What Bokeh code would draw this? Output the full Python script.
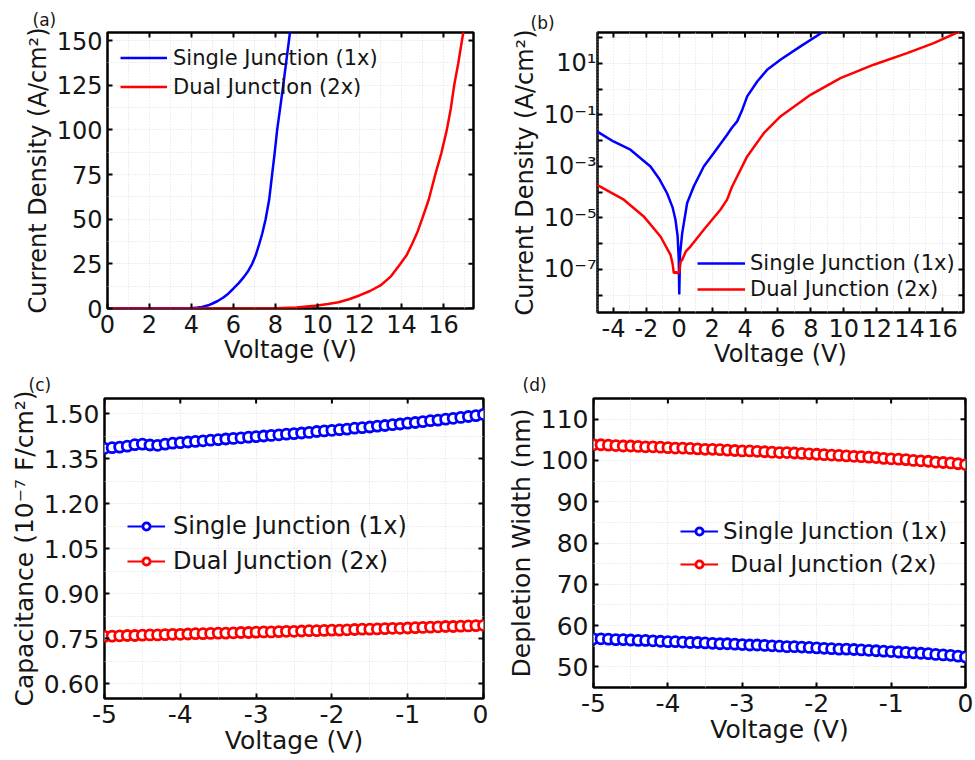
import math
from bokeh.plotting import figure
from bokeh.layouts import row, column
from bokeh.models import FixedTicker, Range1d
from bokeh.embed import file_html
from bokeh.resources import INLINE

# ---------------- data ----------------
# (a) linear J-V
a_x_ticks = [0, 2, 4, 6, 8, 10, 12, 14, 16]
a_x_labels = ["0", "2", "4", "6", "8", "10", "12", "14", "16"]
a_x_minor = [1, 3, 5, 7, 9, 11, 13, 15, 17]
a_y_ticks = [0, 25, 50, 75, 100, 125, 150]
a_y_labels = ["0", "25", "50", "75", "100", "125", "150"]
a_y_minor = [12.5, 37.5, 62.5, 87.5, 112.5, 137.5]
sj_a_v = [0, 1, 2, 3, 3.5, 4.0, 4.3, 4.5, 4.8, 5.0, 5.25, 5.5, 5.75, 6.0, 6.25, 6.5, 6.7, 6.89,
          7.05, 7.2, 7.37, 7.53, 7.7, 7.84, 7.96, 8.08, 8.22, 8.37, 8.5, 8.64, 8.8]
sj_a_j = [0, 0, 0, 0.01, 0.05, 0.2, 0.5, 0.9, 1.8, 2.8, 4.2, 6.0, 8.3, 11.2, 14.2, 17.7, 21, 25,
          29.5, 35, 42, 50, 61, 75, 87, 100, 112, 125, 137, 150, 165]
dj_a_v = [0, 6, 7, 8, 9, 10, 10.5, 11, 11.5, 12, 12.5, 13, 13.5, 13.95, 14.25, 14.5, 14.75, 14.98,
          15.3, 15.61, 15.9, 16.16, 16.35, 16.51, 16.7, 16.88, 17.1]
dj_a_j = [0, 0.01, 0.05, 0.2, 0.6, 1.7, 2.5, 3.5, 5.2, 7.3, 9.8, 12.9, 18, 25, 30, 36, 42.5, 50,
          61, 75, 87, 100, 112, 125, 137, 150, 165]

# (b) log J-V (values given as log10 of current density)
b_x_ticks = [-4, -2, 0, 2, 4, 6, 8, 10, 12, 14, 16]
b_x_labels = ["-4", "-2", "0", "2", "4", "6", "8", "10", "12", "14", "16"]
b_x_minor = [-5, -3, -1, 1, 3, 5, 7, 9, 11, 13, 15, 17]
b_y_ticks = [1e-8, 1e-7, 1e-6, 1e-5, 1e-4, 1e-3, 1e-2, 1e-1, 1e0, 1e1, 1e2]
b_y_labels = ["", "10⁻⁷", "", "10⁻⁵", "", "10⁻³", "", "10⁻¹", "", "10¹", ""]
sj_b_v = [-5, -4, -2.97, -1.75, -1.2, -0.74, -0.4, -0.23, -0.1, -0.03, 0.0, 0.05, 0.18, 0.48,
          0.88, 1.49, 2.1, 2.91, 3.2, 3.52, 3.8, 4.13, 4.74, 5.34, 6.15, 7.37, 8.69]
sj_b_logj = [-1.64, -2.03, -2.35, -3.0, -3.5, -4.04, -4.6, -5.07, -5.7, -6.6, -7.97, -6.4, -5.59, -4.42,
             -3.78, -3.0, -2.48, -1.77, -1.5, -1.25, -0.85, -0.28, 0.30, 0.75, 1.14, 1.66, 2.2]
dj_b_v = [-5, -4.2, -3.37, -2.16, -1.14, -0.53, -0.4, -0.33, -0.2, -0.1, 0.0, 0.08, 0.18, 0.4, 0.68,
          1.49, 2.5, 2.91, 3.2, 3.52, 4.13, 5.14, 6.15, 7.98, 9.8, 11.82, 13.85, 15.47, 16.9, 17.3]
dj_b_logj = [-3.71, -4.0, -4.29, -4.94, -5.72, -6.43, -6.8, -7.14, -7.1, -7.15, -7.1, -6.7, -6.62, -6.3, -6.11,
             -5.46, -4.68, -4.29, -3.8, -3.39, -2.61, -1.71, -1.06, -0.22, 0.43, 0.95, 1.40, 1.79, 2.2, 2.3]

# (c), (d) C-V and depletion width
cv_voltage = [-5.0, -4.9, -4.8, -4.7, -4.6, -4.5, -4.4, -4.3, -4.2, -4.1, -4.0,
              -3.9, -3.8, -3.7, -3.6, -3.5, -3.4, -3.3, -3.2, -3.1, -3.0,
              -2.9, -2.8, -2.7, -2.6, -2.5, -2.4, -2.3, -2.2, -2.1, -2.0,
              -1.9, -1.8, -1.7, -1.6, -1.5, -1.4, -1.3, -1.2, -1.1, -1.0,
              -0.9, -0.8, -0.7, -0.6, -0.5, -0.4, -0.3, -0.2, -0.1, 0.0]
sj_cap = [1.384, 1.386, 1.388, 1.391, 1.396, 1.398, 1.395, 1.394, 1.398, 1.401, 1.403,
          1.405, 1.407, 1.409, 1.411, 1.413, 1.415, 1.417, 1.419, 1.421, 1.423,
          1.425, 1.427, 1.429, 1.431, 1.433, 1.435, 1.437, 1.440, 1.442, 1.444,
          1.446, 1.448, 1.451, 1.453, 1.455, 1.458, 1.460, 1.463, 1.465, 1.468,
          1.470, 1.473, 1.476, 1.478, 1.481, 1.484, 1.487, 1.490, 1.493, 1.497]
dj_cap = [0.757, 0.758, 0.759, 0.760, 0.760, 0.761, 0.762, 0.762, 0.763, 0.764, 0.764,
          0.765, 0.766, 0.766, 0.767, 0.768, 0.768, 0.769, 0.770, 0.770, 0.771,
          0.772, 0.772, 0.773, 0.774, 0.774, 0.775, 0.776, 0.776, 0.777, 0.778,
          0.778, 0.779, 0.780, 0.781, 0.781, 0.782, 0.783, 0.784, 0.784, 0.785,
          0.786, 0.787, 0.788, 0.789, 0.790, 0.790, 0.791, 0.792, 0.793, 0.794]
sj_width = [56.8, 56.8, 56.7, 56.6, 56.6, 56.5, 56.4, 56.4, 56.3, 56.2, 56.1,
            56.1, 56.0, 55.9, 55.9, 55.8, 55.7, 55.6, 55.6, 55.5, 55.4,
            55.3, 55.3, 55.2, 55.1, 55.0, 54.9, 54.9, 54.8, 54.7, 54.6,
            54.5, 54.4, 54.3, 54.3, 54.2, 54.1, 54.0, 53.9, 53.8, 53.7,
            53.6, 53.5, 53.4, 53.3, 53.2, 53.0, 52.9, 52.8, 52.6, 52.4]
dj_width = [103.8, 103.8, 103.7, 103.6, 103.5, 103.5, 103.4, 103.3, 103.3, 103.2, 103.1,
            103.0, 103.0, 102.9, 102.8, 102.7, 102.7, 102.6, 102.5, 102.4, 102.3,
            102.3, 102.2, 102.1, 102.0, 101.9, 101.9, 101.8, 101.7, 101.6, 101.5,
            101.4, 101.3, 101.2, 101.1, 101.0, 100.9, 100.8, 100.7, 100.5, 100.4,
            100.3, 100.2, 100.0, 99.9, 99.8, 99.6, 99.5, 99.4, 99.2, 99.0]
cd_x_ticks = [-5, -4, -3, -2, -1, 0]
cd_x_labels = ["-5", "-4", "-3", "-2", "-1", "0"]
cd_x_minor = [-4.5, -3.5, -2.5, -1.5, -0.5]
c_y_ticks = [0.60, 0.75, 0.90, 1.05, 1.20, 1.35, 1.50]
c_y_labels = ["0.60", "0.75", "0.90", "1.05", "1.20", "1.35", "1.50"]
c_y_minor = [0.675, 0.825, 0.975, 1.125, 1.275, 1.425]
d_y_ticks = [50, 60, 70, 80, 90, 100, 110]
d_y_labels = ["50", "60", "70", "80", "90", "100", "110"]
d_y_minor = [55, 65, 75, 85, 95, 105]

labels_series = ["Single Junction (1x)", "Dual Junction (2x)"]

# ---------------- styling ----------------
FONT = "DejaVu Sans"
BLUE = "#0000ff"
RED = "#ff0000"
TXT = "#151515"
GRID = "#dcdcdc"


def base_fig(title, fw, fh, bl, br, bt, bb, xr, yr, y_type="linear"):
    p = figure(title=title, frame_width=fw, frame_height=fh, min_border_left=bl, min_border_right=br,
               min_border_top=bt, min_border_bottom=bb, x_range=Range1d(*xr), y_range=Range1d(*yr),
               y_axis_type=y_type, output_backend="svg", toolbar_location=None)
    p.outline_line_color = "black"
    p.outline_line_width = 2.5
    p.outline_line_alpha = 1.0
    p.background_fill_color = "white"
    p.border_fill_color = "white"
    p.title.align = "left"
    p.title.text_font = FONT
    p.title.text_font_size = "17px"
    p.title.text_font_style = "normal"
    p.title.text_color = TXT
    return p


def setup_axes(p, xt, xl, xminor, yt, yl, yminor, xlab, ylab, tick_fs, lab_fs, x_end, y_end):
    xtk = FixedTicker(ticks=xt, minor_ticks=xminor)
    ytk = FixedTicker(ticks=yt, minor_ticks=yminor)
    ax_x = p.xaxis[0]
    ax_y = p.yaxis[0]
    for ax, tk, lab, tl, labels in ((ax_x, xtk, xlab, xt, xl), (ax_y, ytk, ylab, yt, yl)):
        ax.ticker = tk
        ax.axis_label = lab
        ax.major_label_overrides = {t: s for t, s in zip(tl, labels)}
        ax.axis_label_text_font = FONT
        ax.axis_label_text_font_size = lab_fs
        ax.axis_label_text_font_style = "normal"
        ax.axis_label_text_color = TXT
        ax.major_label_text_font = FONT
        ax.major_label_text_font_size = tick_fs
        ax.major_label_text_color = TXT
        ax.major_tick_in = 5
        ax.major_tick_out = 0
        ax.major_tick_line_width = 2
        ax.minor_tick_line_color = None
        ax.axis_line_color = None
    ax_x.major_label_standoff = 2
    ax_x.axis_label_standoff = 0
    ax_y.major_label_standoff = 1
    ax_y.axis_label_standoff = 2
    # inward ticks on the top and right edges of the box (half of each dash is clipped by the frame)
    p.scatter(x=xt, y=[y_end] * len(xt), marker="dash", angle=math.pi / 2, size=10,
              line_color="black", line_width=2)
    p.scatter(x=[x_end] * len(yt), y=yt, marker="dash", size=10, line_color="black", line_width=2)
    for g in (p.xgrid[0], p.ygrid[0]):
        g.grid_line_color = GRID
        g.grid_line_dash = "1 2"
        g.grid_line_width = 1
        g.minor_grid_line_color = GRID
        g.minor_grid_line_dash = "1 2"
        g.minor_grid_line_width = 1


def setup_legend(p, loc, fs, glyph_w, glyph_h, row_h, standoff):
    lg = p.legend[0]
    lg.location = loc
    lg.padding = 0
    lg.margin = 0
    lg.spacing = 0
    lg.border_line_color = None
    lg.background_fill_alpha = 0
    lg.label_text_font = FONT
    lg.label_text_font_size = fs
    lg.label_text_color = TXT
    lg.glyph_width = glyph_w
    lg.glyph_height = glyph_h
    lg.label_height = row_h
    lg.label_standoff = standoff


# ---------------- (a) ----------------
a_xr = (0, 17.43)
a_yr = (0, 154.5)
pa = base_fig("(a)", 366, 276, 107, 15, 32, 58, a_xr, a_yr)
pa.title.offset = -75
pa.title.standoff = 6
setup_axes(pa, a_x_ticks, a_x_labels, a_x_minor, a_y_ticks, a_y_labels, a_y_minor,
           "Voltage (V)", "Current Density (A/cm²)", "24px", "24px", a_xr[1], a_yr[1])
pa.line(sj_a_v, sj_a_j, color=BLUE, line_width=2.5, legend_label=labels_series[0])
pa.line(dj_a_v, dj_a_j, color=RED, line_width=2.5, legend_label=labels_series[1])
setup_legend(pa, (13, 207), "21px", 47, 29, 29, 6)

# ---------------- (b) ----------------
b_xr = (-4.97, 17.28)
b_yr = (10 ** -8.67, 10 ** 2.2)
pb = base_fig("(b)", 366, 280, 109, 10, 26, 60, b_xr, b_yr, y_type="log")
pb.title.offset = -67
pb.title.standoff = 0
setup_axes(pb, b_x_ticks, b_x_labels, b_x_minor, b_y_ticks, b_y_labels, [],
           "Voltage (V)", "Current Density (A/cm²)", "24px", "24px", b_xr[1], b_yr[1])
pb.line(sj_b_v, [10 ** e for e in sj_b_logj], color=BLUE, line_width=2.5, legend_label=labels_series[0])
pb.line(dj_b_v, [10 ** e for e in dj_b_logj], color=RED, line_width=2.5, legend_label=labels_series[1])
setup_legend(pb, (100, 10), "21px", 48, 26, 26, 5)

# ---------------- (c) ----------------
c_xr = (-5, 0)
c_yr = (0.55, 1.55)
pc = base_fig("(c)", 379, 300, 104, 5, 32, 58, c_xr, c_yr)
pc.title.offset = -76
pc.title.standoff = 7
setup_axes(pc, cd_x_ticks, cd_x_labels, cd_x_minor, c_y_ticks, c_y_labels, c_y_minor,
           "Voltage (V)", "Capacitance (10⁻⁷ F/cm²)", "25px", "25px", c_xr[1], c_yr[1])
for ys, col, lab in ((sj_cap, BLUE, labels_series[0]), (dj_cap, RED, labels_series[1])):
    pc.line(cv_voltage, ys, color=col, line_width=2, legend_label=lab)
    pc.scatter(cv_voltage, ys, marker="circle", size=10, line_color=col, line_width=2.8,
               fill_color="white", legend_label=lab)
setup_legend(pc, (23, 120), "24px", 38, 18, 35, 8)

# ---------------- (d) ----------------
d_xr = (-5, 0)
d_yr = (45, 115)
pd_ = base_fig("(d)", 372, 289, 105, 8, 32, 69, d_xr, d_yr)
pd_.title.offset = -71
pd_.title.standoff = 7
setup_axes(pd_, cd_x_ticks, cd_x_labels, cd_x_minor, d_y_ticks, d_y_labels, d_y_minor,
           "Voltage (V)", "Depletion Width (nm)", "25px", "25px", d_xr[1], d_yr[1])
for ys, col, lab in ((sj_width, BLUE, labels_series[0]), (dj_width, RED, " " + labels_series[1])):
    pd_.line(cv_voltage, ys, color=col, line_width=2, legend_label=lab)
    pd_.scatter(cv_voltage, ys, marker="circle", size=10, line_color=col, line_width=2.8,
                fill_color="white", legend_label=lab)
setup_legend(pd_, (87, 107), "23px", 38, 18, 33, 5)

layout = column(row(pa, pb), row(pc, pd_))
open("out.html", "w").write(file_html(layout, INLINE))
